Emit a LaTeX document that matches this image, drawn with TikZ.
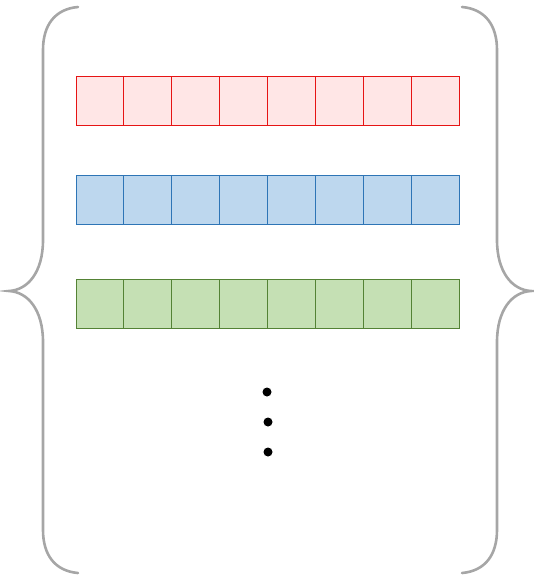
\documentclass[tikz,border=0pt]{standalone}
\definecolor{redfill}{RGB}{255,230,230}
\definecolor{redline}{RGB}{230,20,20}
\definecolor{bluefill}{RGB}{189,215,238}
\definecolor{blueline}{RGB}{46,117,182}
\definecolor{greenfill}{RGB}{197,224,180}
\definecolor{greenline}{RGB}{84,130,53}
\definecolor{bracegray}{RGB}{166,166,166}
\begin{document}
\begin{tikzpicture}[x=1pt,y=-1pt,
  cell/.style={draw,line width=1pt,minimum width=47.9pt,minimum height=49pt,inner sep=0pt,outer sep=0pt,anchor=north west},
  redcell/.style={cell,fill=redfill,draw=redline},
  bluecell/.style={cell,fill=bluefill,draw=blueline},
  greencell/.style={cell,fill=greenfill,draw=greenline},
  bracestyle/.style={draw=bracegray,line width=2.6pt,line cap=round},
  dot/.style={circle,fill=black,inner sep=0pt,minimum size=9pt}]
\useasboundingbox (0,0) rectangle (534,580);
% left brace
\draw[bracestyle] (78,7) .. controls (55,9) and (43,25) .. (43,50)
  -- (43,240) .. controls (43,272) and (28,290) .. (9,291)
  .. controls (28,292) and (43,310) .. (43,342)
  -- (43,530) .. controls (43,555) and (55,571) .. (78,573);
% right brace
\draw[bracestyle] (462,7) .. controls (485,9) and (497,25) .. (497,50)
  -- (497,240) .. controls (497,272) and (512,290) .. (531,291)
  .. controls (512,292) and (497,310) .. (497,342)
  -- (497,530) .. controls (497,555) and (485,571) .. (462,573);
% rows
\foreach \i in {0,...,7}{
  \node[redcell] (r\i) at ({76+\i*47.9},77) {};
  \node[bluecell] (b\i) at ({76+\i*47.9},175) {};
  \node[greencell] (g\i) at ({76+\i*47.9},279) {};
}
% dots
\node[dot] (d1) at (267,392) {};
\node[dot] (d2) at (268,422) {};
\node[dot] (d3) at (268,452) {};
\end{tikzpicture}
\end{document}
